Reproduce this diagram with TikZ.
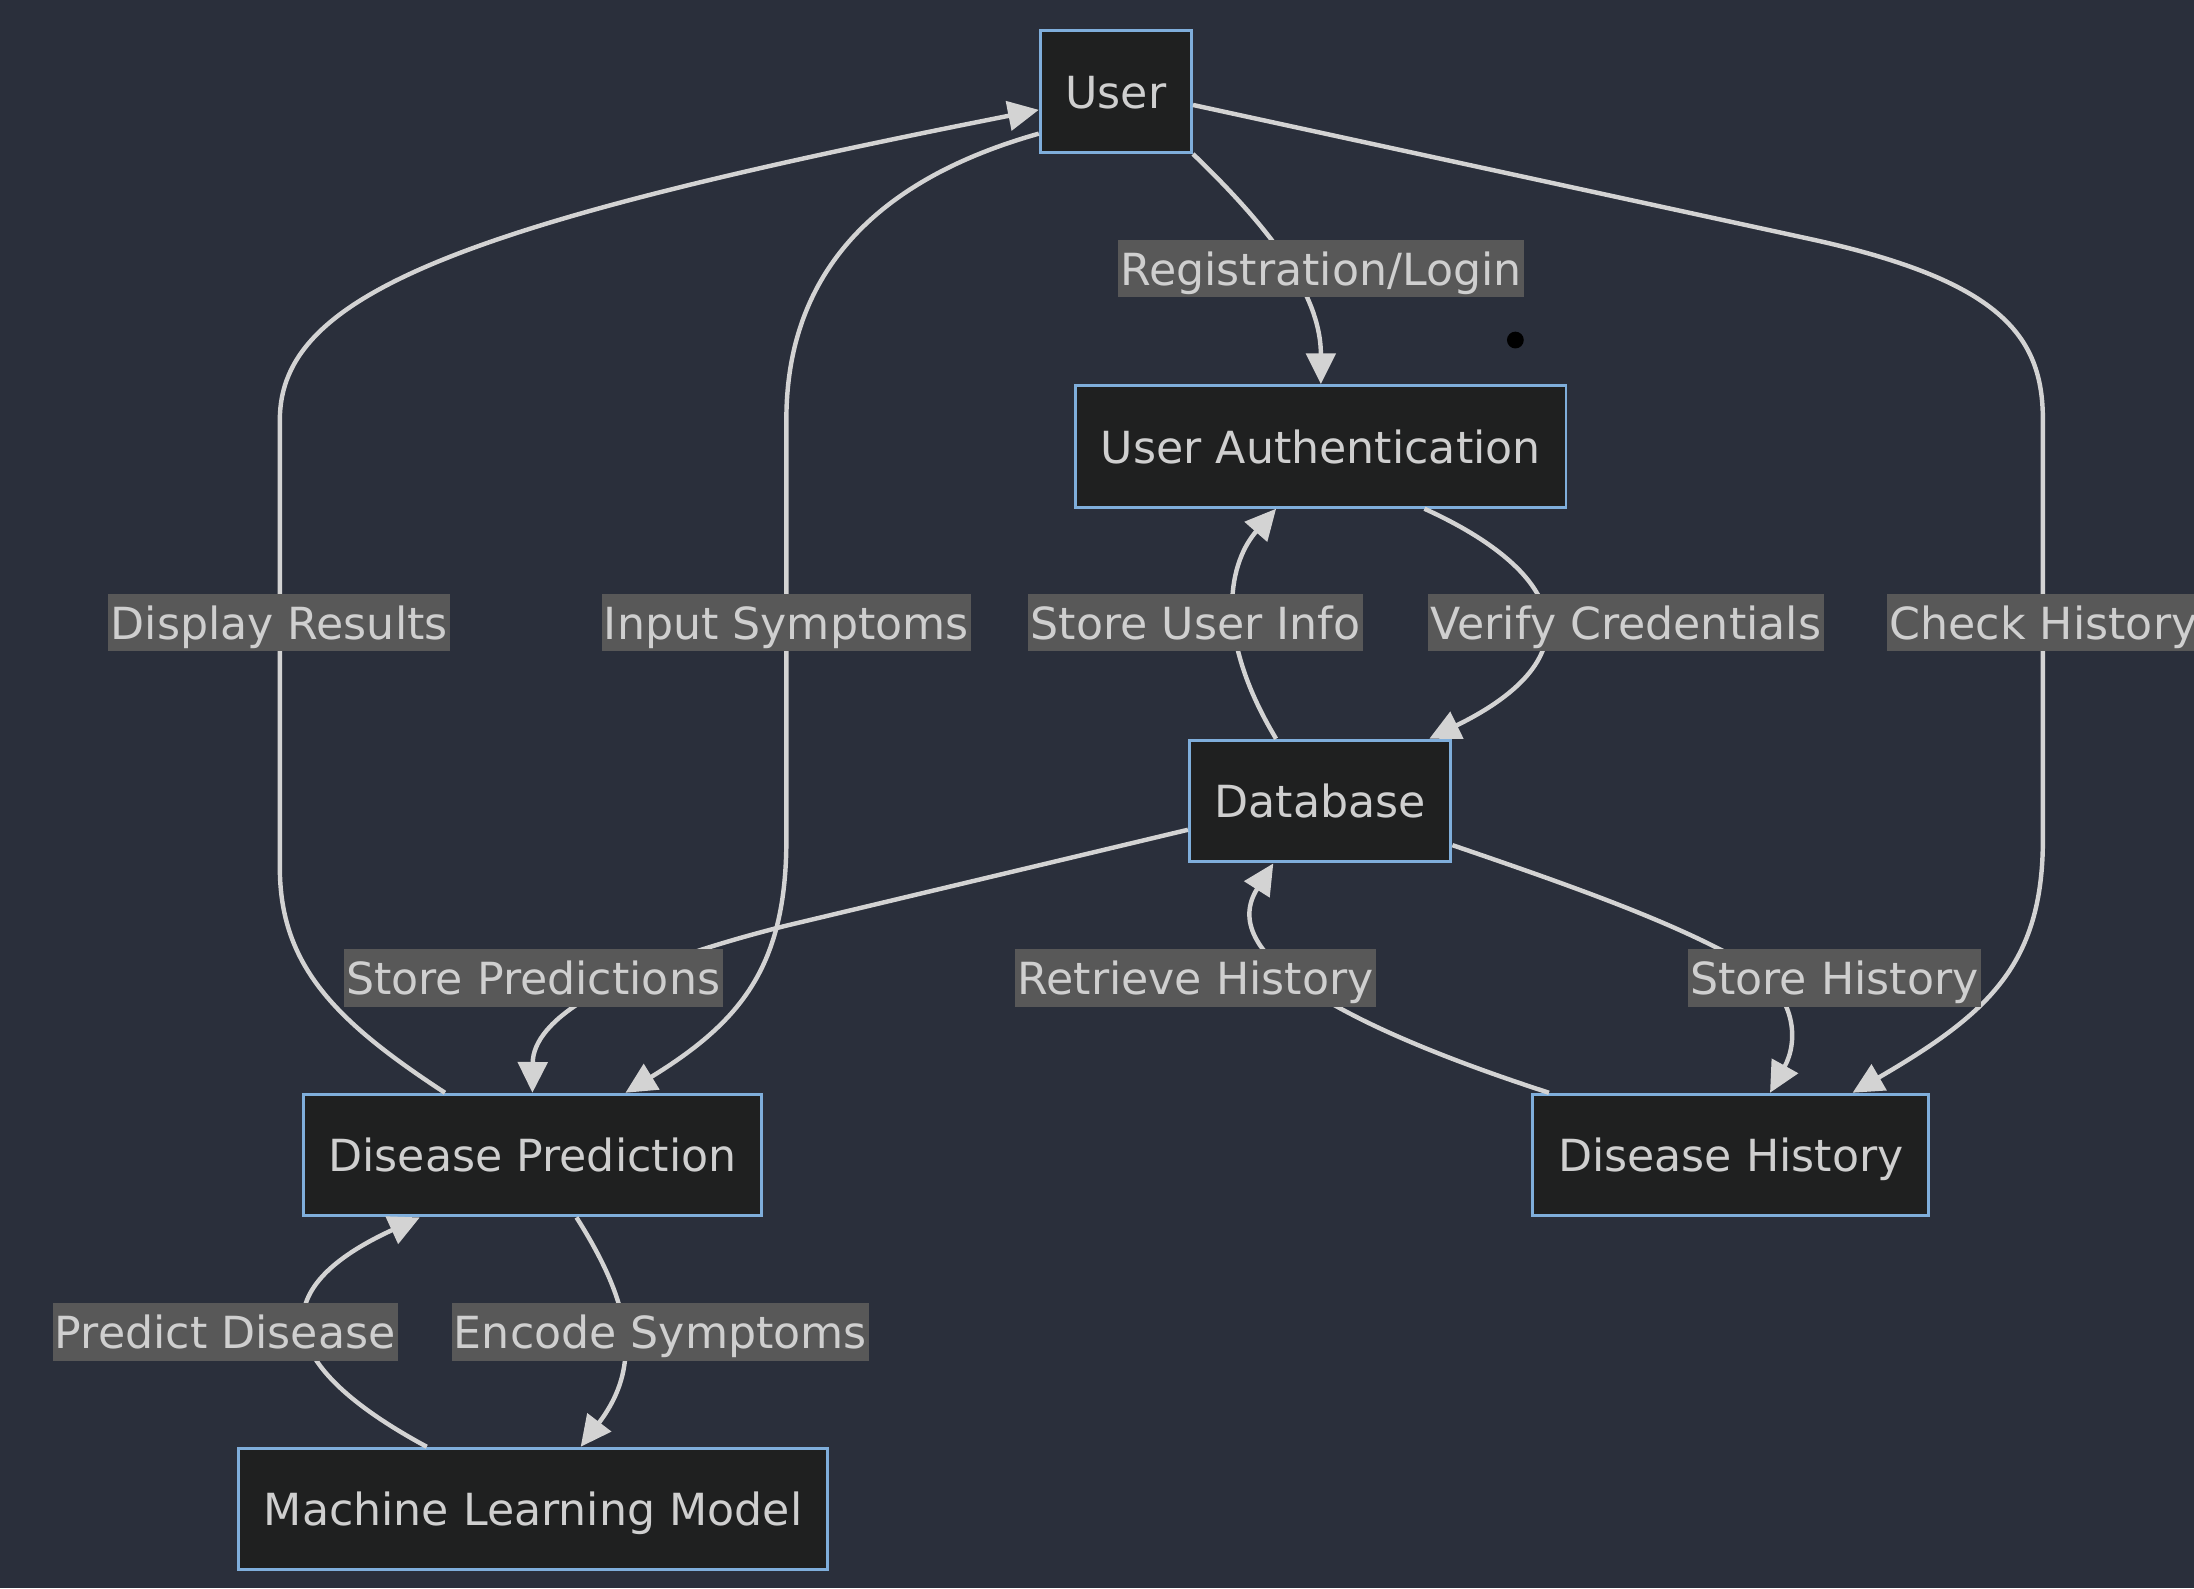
\documentclass[tikz,border=0pt]{standalone}
\usepackage{fontspec}
\setmainfont{DejaVu Sans}
\usetikzlibrary{arrows.meta,calc}

\definecolor{bgdark}{HTML}{2A2F3B}
\definecolor{boxfill}{HTML}{1F2020}
\definecolor{boxline}{HTML}{7FAEDB}
\definecolor{linegrey}{HTML}{D3D3D3}
\definecolor{textgrey}{HTML}{CFCFCF}
\definecolor{labelfill}{HTML}{585858}

\begin{document}
\begin{tikzpicture}[
    x=0.1mm,
    y=-0.1mm,
    box/.style={draw=boxline, fill=boxfill, line width=0.6pt, text=textgrey,
      font=\fontsize{9pt}{11pt}\selectfont, inner xsep=1.8mm, inner ysep=0pt,
      text height=8.8pt, text depth=2pt, minimum height=8.7mm},
    edgelabel/.style={fill=labelfill, text=textgrey,
      font=\fontsize{9pt}{11pt}\selectfont, inner xsep=0.5pt, inner ysep=0pt,
      text height=8.8pt, text depth=2pt, minimum height=4.1mm},
    flow/.style={draw=linegrey, line width=0.9pt,
      -{Triangle[length=2.2mm, width=2.1mm]}}
  ]
    \fill[bgdark] (0,0) rectangle (1568,1135);
    \useasboundingbox (0,0) rectangle (1568,1135);

    \node[box] (user) at (797.5,65.5) {User};
    \node[box] (auth) at (944,319) {User Authentication};
    \node[box] (db) at (943.5,572.5) {Database};
    \node[box] (pred) at (380.5,825.5) {Disease Prediction};
    \node[box] (hist) at (1237,825.5) {Disease History};
    \node[box] (model) at (381,1078.5) {Machine Learning Model};

    \draw[flow] (user.south east) .. controls (915,170) and (944,215) .. (auth.north);
    \draw[flow] ($(user.east)+(0,9.5)$) -- (1290,170)
      .. controls (1430,200) and (1460,240) .. (1460,300) -- (1460,600)
      .. controls (1460,690) and (1420,725) .. ($(hist.north)+(87,0)$);
    \draw[flow] ($(pred.north)+(-62.5,0)$) .. controls (240,730) and (200,690) .. (200,620)
      -- (200,300) .. controls (200,210) and (330,160) .. ($(user.west)+(0,13)$);
    \draw[flow] ($(user.west)+(0,30)$) .. controls (620,130) and (562,200) .. (562,300)
      -- (562,600) .. controls (562,690) and (530,730) .. ($(pred.north)+(66.5,0)$);
    \draw[flow] ($(db.north)+(-31.5,0)$) .. controls (865,450) and (880,400) .. ($(auth.south)+(-32,0)$);
    \draw[flow] ($(auth.south)+(74,0)$) .. controls (1120,410) and (1140,470) .. ($(db.north)+(78,0)$);
    \draw[flow] ($(db.west)+(0,20.5)$) -- (560,662) .. controls (430,695) and (381,730) .. (pred.north);
    \draw[flow] ($(db.east)+(0,31.5)$) .. controls (1120,632) and (1200,660) .. (1250,690)
      .. controls (1285,712) and (1285,745) .. ($(hist.north)+(28,0)$);
    \draw[flow] ($(hist.north)+(-130,0)$) .. controls (950,730) and (870,680) .. ($(db.south)+(-33.5,0)$);
    \draw[flow] ($(pred.south)+(31.5,0)$) .. controls (450,930) and (460,975) .. ($(model.north)+(34,0)$);
    \draw[flow] ($(model.north)+(-76,0)$) .. controls (205,980) and (180,925) .. ($(pred.south)+(-80.5,0)$);

    \node[edgelabel] (lreg) at (944,192) {Registration/Login};
    \node[edgelabel] (lshow) at (199.5,445) {Display Results};
    \node[edgelabel] (linput) at (562,445) {Input Symptoms};
    \node[edgelabel] (lstoreuser) at (854.5,445) {Store User Info};
    \node[edgelabel] (lverify) at (1162,445) {Verify Credentials};
    \node[edgelabel] (lcheck) at (1460.5,445) {Check History};
    \node[edgelabel] (lstorepred) at (381,699) {Store Predictions};
    \node[edgelabel] (lretrieve) at (854.5,699) {Retrieve History};
    \node[edgelabel] (lstorehist) at (1311,699) {Store History};
    \node[edgelabel] (lpredict) at (161,952) {Predict Disease};
    \node[edgelabel] (lencode) at (472,952) {Encode Symptoms};

    \fill[black] (1083,243) circle (0.6mm);
  \end{tikzpicture}
\end{document}
